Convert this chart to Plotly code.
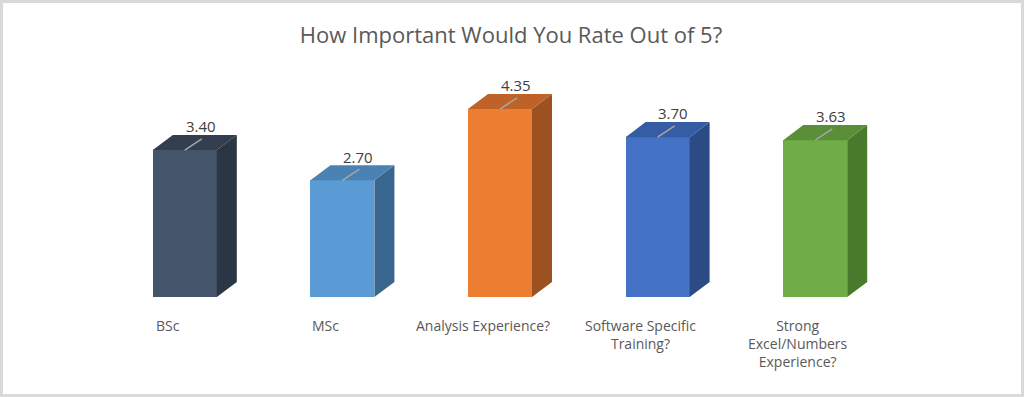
import plotly.graph_objects as go

categories = ["BSc", "MSc", "Analysis Experience?", "Software Specific<br>Training?",
              "Strong<br>Excel/Numbers<br>Experience?"]
values = [3.40, 2.70, 4.35, 3.70, 3.63]
value_labels = ["3.40", "2.70", "4.35", "3.70", "3.63"]
front_colors = ["#44546a", "#5b9bd5", "#ed7d31", "#4472c4", "#70ad47"]
side_colors = ["#2b3644", "#39668f", "#9c5120", "#2c4b85", "#497a2c"]
top_colors = ["#333f4f", "#4a82b4", "#be6227", "#365da3", "#5a8e39"]

W = 0.406   # front face width (x units)
DX = 0.127  # depth offset x
DY = 0.35   # depth offset y

fig = go.Figure()
xs = list(range(len(values)))

fig.add_trace(go.Bar(x=xs, y=values, width=W, marker=dict(color=front_colors, line=dict(width=0)),
                     hoverinfo="skip", showlegend=False))

for i, v in enumerate(values):
    xr = i + W / 2
    xl = i - W / 2
    # side face
    fig.add_trace(go.Scatter(x=[xr, xr + DX, xr + DX, xr, xr], y=[0, DY, v + DY, v, 0],
                             fill="toself", fillcolor=side_colors[i], mode="lines",
                             line=dict(width=0, color=side_colors[i]), hoverinfo="skip", showlegend=False))
    # top face
    fig.add_trace(go.Scatter(x=[xl, xr, xr + DX, xl + DX, xl], y=[v, v, v + DY, v + DY, v],
                             fill="toself", fillcolor=top_colors[i], mode="lines",
                             line=dict(width=0, color=top_colors[i]), hoverinfo="skip", showlegend=False))
    # leader line
    fig.add_trace(go.Scatter(x=[i, i + 0.108], y=[v, v + 0.26], mode="lines",
                             line=dict(width=1.5, color="#a6a6a6"), hoverinfo="skip", showlegend=False))
    fig.add_annotation(x=i + 0.1, y=v + 0.55, text=value_labels[i], showarrow=False,
                       font=dict(family="Open Sans", size=15, color="#404040"),
                       xanchor="center", yanchor="middle")
    fig.add_annotation(x=i - 0.108, xref="x", y=-0.08, yref="paper", text=categories[i], showarrow=False,
                       font=dict(family="Open Sans", size=14, color="#595959"),
                       xanchor="center", yanchor="top", align="center")

fig.update_layout(
    width=1024, height=397,
    margin=dict(l=106, r=130, t=81, b=100),
    paper_bgcolor="white", plot_bgcolor="white",
    title=dict(text="How Important Would You Rate Out of 5?", x=511/1024, xref="container", xanchor="center",
               y=1 - 35/397, yref="container", yanchor="middle",
               font=dict(family="Open Sans", size=22, color="#595959")),
    xaxis=dict(range=[-0.5, 4.5], visible=False, fixedrange=True),
    yaxis=dict(range=[0, 5], visible=False, fixedrange=True),
    bargap=0,
    shapes=[dict(type="rect", xref="paper", yref="paper", x0=(1.5 - 106)/788, x1=1 + (130 - 1.5)/788,
                 y0=(1.5 - 100)/216, y1=1 + (81 - 1.5)/216, line=dict(color="#d9d9d9", width=3))],
)

fig.write_html("out.html", config={"displayModeBar": False},
               post_script="document.body.style.margin='0';document.body.style.overflow='hidden';")
